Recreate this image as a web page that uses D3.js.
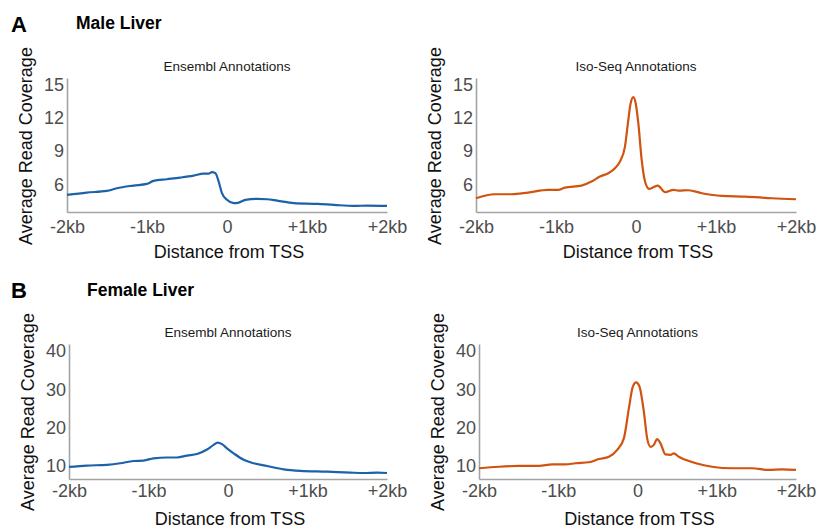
<!DOCTYPE html>
<html>
<head>
<meta charset="utf-8">
<script src="https://cdn.jsdelivr.net/npm/d3@7"></script>
<style>
  body { margin: 0; background: #fff; }
  svg { font-family: "Liberation Sans", Arial, sans-serif; }
</style>
</head>
<body>
<svg id="chart" width="824" height="529"></svg>
<script>
'use strict';

// distance from TSS in bp, and average read coverage
let maleEnsPos = [-2000, -1754, -1503, -1378, -1169, -1002, -919, -752, -585, -418, -292, -230, -188, -146, -104, -63, 0, 84, 146, 230, 376, 501, 626, 835, 1127, 1336, 1587, 1754, 2000]
let maleEnsCov = [5.04, 5.25, 5.4, 5.64, 5.88, 6.03, 6.3, 6.45, 6.6, 6.78, 6.96, 6.96, 7.1, 7.0, 6.24, 5.2, 4.6, 4.3, 4.35, 4.6, 4.68, 4.65, 4.53, 4.3, 4.23, 4.14, 4.05, 4.08, 4.05]

let maleIsoPos = [-2000, -1768, -1559, -1350, -1099, -974, -890, -681, -556, -451, -347, -263, -201, -138, -96, -67, -33, -4, 29, 71, 113, 163, 217, 272, 364, 468, 531, 656, 823, 1074, 1366, 1701, 2000]
let maleIsoCov = [4.74, 5.1, 5.1, 5.25, 5.49, 5.49, 5.7, 5.88, 6.24, 6.69, 6.99, 7.44, 8.04, 9.39, 11.8, 13.3, 13.85, 13.3, 11.5, 8.19, 6.24, 5.58, 5.73, 5.88, 5.28, 5.49, 5.43, 5.46, 5.19, 4.95, 4.89, 4.74, 4.65]

let femaleEnsPos = [-2000, -1775, -1523, -1355, -1188, -1062, -936, -768, -642, -516, -390, -264, -180, -130, -76, -13, 71, 197, 323, 491, 701, 911, 1246, 1540, 1708, 1876, 2000]
let femaleEnsCov = [9.74, 10.1, 10.3, 10.7, 11.3, 11.4, 12.0, 12.2, 12.2, 12.7, 13.1, 14.3, 15.5, 16.1, 15.7, 14.6, 13.3, 11.6, 10.7, 10.0, 9.1, 8.7, 8.5, 8.26, 8.17, 8.26, 8.17]

let femaleIsoPos = [-2000, -1748, -1496, -1244, -1076, -908, -782, -613, -487, -361, -256, -172, -109, -59, -17, 25, 80, 122, 164, 206, 248, 290, 353, 416, 458, 521, 605, 773, 941, 1193, 1445, 1655, 1824, 2000]
let femaleIsoCov = [9.4, 9.8, 10.0, 10.0, 10.4, 10.4, 10.7, 10.96, 11.8, 12.4, 14.2, 17.2, 25, 30.7, 31.8, 30.7, 24.2, 17.2, 15.0, 15.5, 17.0, 15.9, 13.0, 12.9, 13.3, 12.4, 11.6, 10.5, 9.8, 9.4, 9.4, 8.96, 9.1, 8.96]

let xTickVals = [-2000, -1000, 0, 1000, 2000]
let xTickLabels = ['-2kb', '-1kb', '0', '+1kb', '+2kb']
let maleYTicks = [6, 9, 12, 15]
let femaleYTicks = [10, 20, 30, 40]

let ensemblColor = '#1c62a8'
let isoColor = '#d0530f'

let svg = d3.select('#chart')

function drawPanel(p) {
    let x = d3.scaleLinear().domain([-2000, 2000]).range([p.left, p.right])
    let y = d3.scaleLinear().domain(p.yDomain).range([p.bottom, p.top])

    let g = svg.append('g')

    let xAxis = g.append('g')
        .attr('transform', 'translate(0,' + p.bottom + ')')
        .call(d3.axisBottom(x)
            .tickValues(xTickVals)
            .tickFormat((d, i) => xTickLabels[i])
            .tickSize(0)
            .tickPadding(p.xPad))
    let yAxis = g.append('g')
        .attr('transform', 'translate(' + p.left + ',0)')
        .call(d3.axisLeft(y)
            .tickValues(p.yTicks)
            .tickSize(0)
            .tickPadding(3))

    for (let ax of [xAxis, yAxis]) {
        ax.select('.domain').attr('stroke', '#a3a3a3').attr('stroke-width', 1.6)
        ax.selectAll('text')
            .attr('fill', '#4d4d4d')
            .style('font-size', '18px')
            .style('font-family', '"Liberation Sans", Arial, sans-serif')
    }

    let line = d3.line()
        .x(d => x(d[0]))
        .y(d => y(d[1]))
        .curve(d3.curveMonotoneX)

    g.append('path')
        .datum(d3.zip(p.pos, p.cov))
        .attr('d', line)
        .attr('fill', 'none')
        .attr('stroke', p.color)
        .attr('stroke-width', 2.2)
        .attr('stroke-linejoin', 'round')

    g.append('text')
        .attr('x', x(0))
        .attr('y', p.top - 7)
        .attr('text-anchor', 'middle')
        .style('font-size', '13.5px')
        .attr('fill', '#1a1a1a')
        .text(p.title)

    g.append('text')
        .attr('x', x(0) + 2)
        .attr('y', p.xTitleY)
        .attr('text-anchor', 'middle')
        .style('font-size', '18px')
        .attr('fill', '#111')
        .text('Distance from TSS')

    g.append('text')
        .attr('transform', 'translate(' + (p.left - 35) + ',' + p.yTitleMid + ') rotate(-90)')
        .attr('text-anchor', 'middle')
        .style('font-size', '18px')
        .attr('fill', '#111')
        .text('Average Read Coverage')
}

let panels = [
    { left: 67, right: 387, top: 78, bottom: 212, yDomain: [3.5, 15.57], yTicks: maleYTicks,
      pos: maleEnsPos, cov: maleEnsCov, color: ensemblColor, title: 'Ensembl Annotations',
      xPad: 8, xTitleY: 258, yTitleMid: 146 },
    { left: 476, right: 796, top: 78, bottom: 212, yDomain: [3.5, 15.57], yTicks: maleYTicks,
      pos: maleIsoPos, cov: maleIsoCov, color: isoColor, title: 'Iso-Seq Annotations',
      xPad: 8, xTitleY: 258, yTitleMid: 146 },
    { left: 69, right: 387, top: 344, bottom: 479, yDomain: [6.6, 41.8], yTicks: femaleYTicks,
      pos: femaleEnsPos, cov: femaleEnsCov, color: ensemblColor, title: 'Ensembl Annotations',
      xPad: 5, xTitleY: 525, yTitleMid: 412 },
    { left: 479, right: 796, top: 344, bottom: 479, yDomain: [6.6, 41.8], yTicks: femaleYTicks,
      pos: femaleIsoPos, cov: femaleIsoCov, color: isoColor, title: 'Iso-Seq Annotations',
      xPad: 5, xTitleY: 525, yTitleMid: 412 }
]

panels.forEach(drawPanel)

// panel letters and headings
let headings = [
    { letter: 'A', name: 'Male Liver', ly: 32, nx: 76, ny: 29 },
    { letter: 'B', name: 'Female Liver', ly: 298, nx: 87, ny: 296 }
]
headings.forEach(h => {
    svg.append('text').attr('x', 11).attr('y', h.ly)
        .style('font-size', '22px').style('font-weight', 'bold').text(h.letter)
    svg.append('text').attr('x', h.nx).attr('y', h.ny)
        .style('font-size', '17.5px').style('font-weight', 'bold').text(h.name)
})
</script>
</body>
</html>
